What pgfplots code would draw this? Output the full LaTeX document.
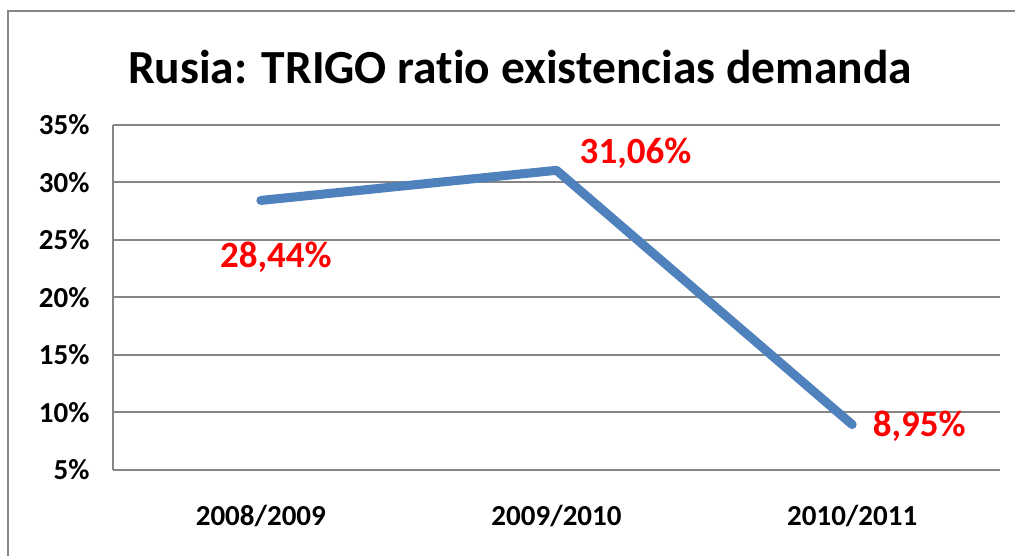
\documentclass[border=0pt]{standalone}
\usepackage{pgfplots}
\pgfplotsset{compat=1.18}
\usepackage{fontspec}
\setmainfont[Ligatures=NoCommon]{Carlito}
\definecolor{linecol}{RGB}{79,129,189}
\definecolor{gridcol}{RGB}{134,134,134}
\begin{document}
\begin{tikzpicture}[x=1pt,y=1pt]
\path[use as bounding box] (0,0) rectangle (1015,556);
\fill[white] (0,0) rectangle (1015,556);
\draw[gridcol, line width=2pt] (8,0) -- (8,546);
\draw[gridcol, line width=2pt] (7,545) -- (1015,545);
\node[font=\bfseries\fontsize{47.5}{52}\selectfont] at (520,489) {Rusia: TRIGO ratio existencias demanda};
\begin{axis}[
  at={(113pt,86pt)}, anchor=south west,
  scale only axis, width=887pt, height=345pt,
  xmin=-0.5, xmax=2.5, ymin=5, ymax=35,
  xtick={0,1,2}, xticklabels={2008/2009,2009/2010,2010/2011},
  ytick={5,10,15,20,25,30,35},
  yticklabel={\pgfmathprintnumber{\tick}\%},
  /pgf/number format/assume math mode=true,
  ticklabel style={font=\bfseries\fontsize{29}{31}\selectfont},
  yticklabel style={xshift=-20pt},
  xticklabel style={yshift=-32pt},
  major tick length=0pt,
  axis x line*=bottom, axis y line*=left,
  axis line style={gridcol, line width=2pt, -},
  ymajorgrids, grid style={gridcol, line width=2pt},
  clip=false,
]
\addplot[linecol, line width=9pt, line cap=round, line join=round] coordinates {(0,28.44) (1,31.06) (2,8.95)};
\node[red, font=\bfseries\fontsize{37}{40}\selectfont] at (axis cs:0,28.44) [xshift=15pt, yshift=-57pt] {28,44\%};
\node[red, font=\bfseries\fontsize{37}{40}\selectfont] at (axis cs:1,31.06) [xshift=79pt, yshift=17pt] {31,06\%};
\node[red, font=\bfseries\fontsize{37}{40}\selectfont] at (axis cs:2,8.95) [xshift=67pt, yshift=-2pt] {8,95\%};
\end{axis}
\fill[white] (1001.5,0) rectangle (1015,543.5);
\end{tikzpicture}
\end{document}
